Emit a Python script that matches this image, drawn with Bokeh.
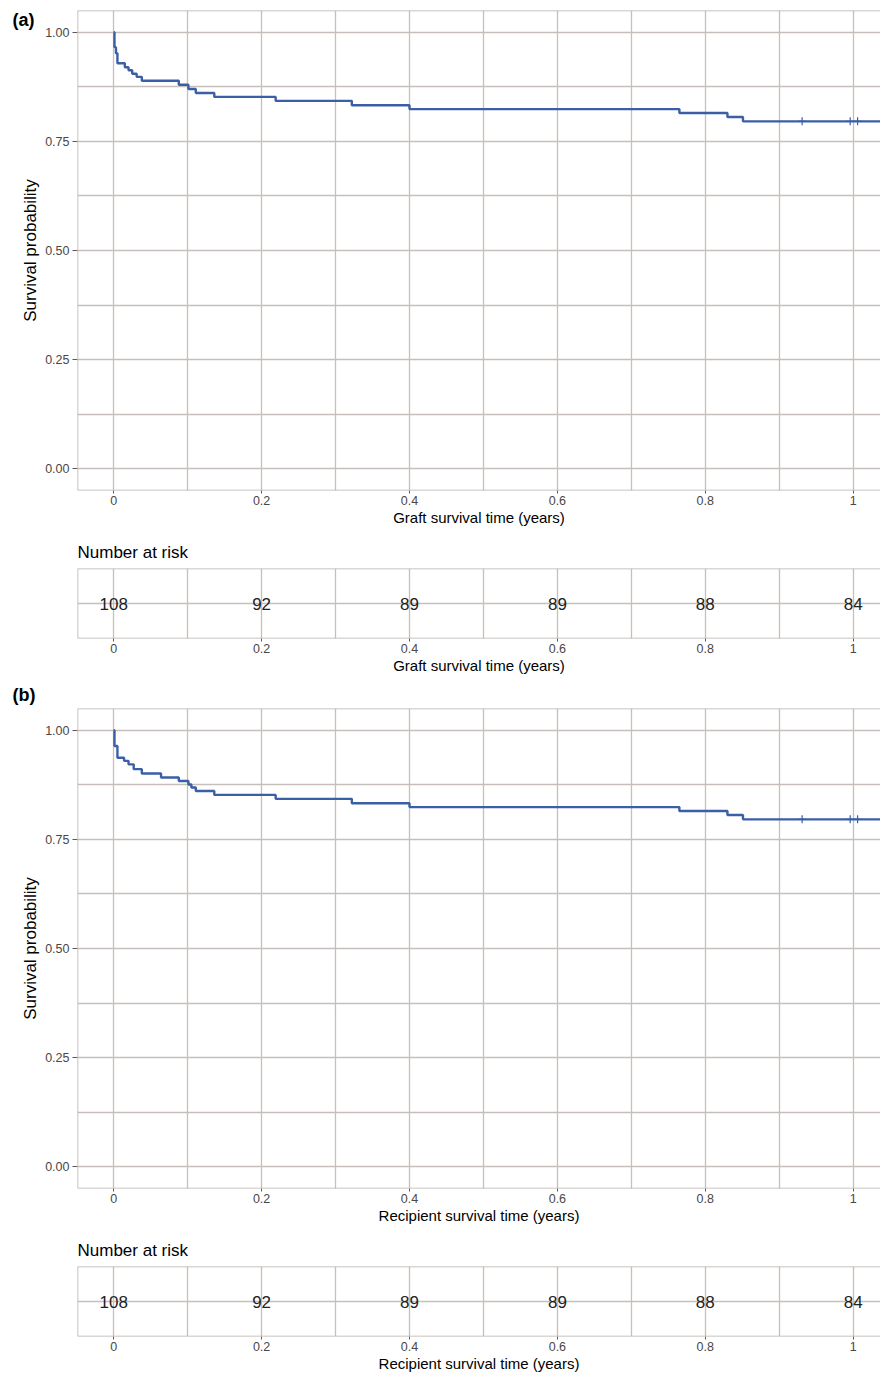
from bokeh.plotting import figure
from bokeh.layouts import column
from bokeh.models import (Range1d, FactorRange, FixedTicker, NumeralTickFormatter,
                          Title, Span, ColumnDataSource)
from bokeh.core.properties import value
from bokeh.embed import file_html
from bokeh.resources import INLINE

# ---------------- data ----------------
graft_time = [0.0, 0.001, 0.003, 0.005, 0.015, 0.020, 0.025, 0.031, 0.038, 0.088,
              0.101, 0.111, 0.136, 0.219, 0.322, 0.400, 0.765, 0.830, 0.851, 1.06]
graft_surv = [1.000, 0.966, 0.952, 0.929, 0.920, 0.913, 0.905, 0.898, 0.889, 0.880,
              0.870, 0.861, 0.852, 0.843, 0.833, 0.824, 0.815, 0.806, 0.796, 0.796]

recip_time = [0.0, 0.001, 0.005, 0.014, 0.020, 0.027, 0.038, 0.064, 0.088, 0.101,
              0.105, 0.111, 0.136, 0.219, 0.322, 0.400, 0.765, 0.830, 0.851, 1.06]
recip_surv = [1.000, 0.964, 0.937, 0.930, 0.922, 0.911, 0.901, 0.892, 0.884, 0.876,
              0.869, 0.861, 0.852, 0.843, 0.833, 0.824, 0.815, 0.806, 0.796, 0.796]

censor_time = [0.931, 0.996, 1.006]
censor_surv = [0.796, 0.796, 0.796]

risk_time = [0, 0.2, 0.4, 0.6, 0.8, 1.0]
risk_graft = [108, 92, 89, 89, 88, 84]
risk_recip = [108, 92, 89, 89, 88, 84]
strata = ["All"]

x_ticks = [0, 0.2, 0.4, 0.6, 0.8, 1.0]
x_minor = [0.1, 0.3, 0.5, 0.7, 0.9]
y_ticks = [0, 0.25, 0.5, 0.75, 1.0]
y_minor = [0.125, 0.375, 0.625, 0.875]

# ---------------- style ----------------
FONT = "Liberation Sans"
BLUE = "#3a5fa6"
GRID = "#c6bfbb"
BORDER = "#b8b0ac"
TICK = "#5e5856"
TICKLAB = "#4a4646"
X0, X1 = -0.049, 1.037
W = 880


def style_xaxis(p, label):
    ax = p.xaxis[0]
    ax.ticker = FixedTicker(ticks=x_ticks, minor_ticks=x_minor)
    ax.formatter = NumeralTickFormatter(format="0.[0]")
    ax.axis_line_color = None
    ax.major_tick_out = 3
    ax.major_tick_in = 0
    ax.minor_tick_out = 0
    ax.minor_tick_in = 0
    ax.major_tick_line_color = TICK
    ax.major_label_text_font = FONT
    ax.major_label_text_font_size = "12.5px"
    ax.major_label_text_color = TICKLAB
    ax.major_label_standoff = 2
    ax.axis_label = label
    ax.axis_label_text_font = FONT
    ax.axis_label_text_font_style = "normal"
    ax.axis_label_text_font_size = "15px"
    ax.axis_label_text_color = "black"
    ax.axis_label_standoff = 1
    p.xgrid.ticker = FixedTicker(ticks=x_ticks, minor_ticks=x_minor)
    p.xgrid.grid_line_color = GRID
    p.xgrid.grid_line_width = 1.3
    p.xgrid.minor_grid_line_color = GRID
    p.xgrid.minor_grid_line_width = 1.3


def add_title(p, text, bold, size, offset, standoff):
    p.add_layout(Title(text=text, align="left", offset=offset, standoff=standoff,
                       vertical_align="bottom", text_font=FONT,
                       text_font_style="bold" if bold else "normal",
                       text_font_size=size, text_color="black"), "above")


def surv_fig(times, survs, xlabel, tag, tag_standoff, top, bottom):
    p = figure(width=W, height=top + 480 + bottom, title=None,
               x_range=Range1d(X0, X1), y_range=Range1d(-0.05, 1.05),
               output_backend="svg", toolbar_location=None,
               min_border_left=77, min_border_right=0,
               min_border_top=top, min_border_bottom=bottom)
    p.outline_line_color = None
    p.background_fill_color = "white"
    p.border_fill_color = "white"
    style_xaxis(p, xlabel)

    ay = p.yaxis[0]
    ay.ticker = FixedTicker(ticks=y_ticks, minor_ticks=y_minor)
    ay.formatter = NumeralTickFormatter(format="0.00")
    ay.axis_line_color = None
    ay.major_tick_out = 5
    ay.major_tick_in = 0
    ay.minor_tick_out = 0
    ay.minor_tick_in = 0
    ay.major_tick_line_color = TICK
    ay.major_label_text_font = FONT
    ay.major_label_text_font_size = "12.5px"
    ay.major_label_text_color = TICKLAB
    ay.major_label_standoff = 3
    ay.axis_label = "Survival probability"
    ay.axis_label_text_font = FONT
    ay.axis_label_text_font_style = "normal"
    ay.axis_label_text_font_size = "17px"
    ay.axis_label_text_color = "black"
    ay.axis_label_standoff = 2
    p.ygrid.ticker = FixedTicker(ticks=y_ticks, minor_ticks=y_minor)
    p.ygrid.grid_line_color = GRID
    p.ygrid.grid_line_width = 1.3
    p.ygrid.minor_grid_line_color = GRID
    p.ygrid.minor_grid_line_width = 1.3

    for loc, dim in ((1.05, "width"), (-0.05, "width"), (X0, "height")):
        p.add_layout(Span(location=loc, dimension=dim, line_color=BORDER, line_width=1.5))

    p.step(times, survs, mode="after", line_color=BLUE, line_width=2.4)
    p.scatter(censor_time, censor_surv, marker="cross", size=8,
              line_color=BLUE, line_width=1.2)

    add_title(p, tag, True, "18px", -65, tag_standoff)
    return p


def risk_fig(counts, xlabel, top, bottom):
    p = figure(width=W, height=top + 70 + bottom, title=None,
               x_range=Range1d(X0, X1), y_range=FactorRange(factors=strata),
               output_backend="svg", toolbar_location=None,
               min_border_left=77, min_border_right=0,
               min_border_top=top, min_border_bottom=bottom)
    p.outline_line_color = None
    p.background_fill_color = "white"
    p.border_fill_color = "white"
    style_xaxis(p, xlabel)

    p.yaxis.visible = False
    p.ygrid.grid_line_color = GRID
    p.ygrid.grid_line_width = 1.3

    for loc, dim in ((1, "width"), (0, "width"), (X0, "height")):
        p.add_layout(Span(location=loc, dimension=dim, line_color=BORDER, line_width=1.5))

    src = ColumnDataSource(dict(time=risk_time,
                                n=[str(c) for c in counts],
                                strata=[strata[0]] * len(risk_time)))
    p.text(x="time", y="strata", text="n", source=src,
           text_font=value(FONT), text_font_size="17px",
           text_align="center", text_baseline="middle", text_color="#222222")

    add_title(p, "Number at risk", False, "17px", 0, 14)
    return p


a1 = surv_fig(graft_time, graft_surv, "Graft survival time (years)", "(a)", -38, 10, 40)
a2 = risk_fig(risk_graft, "Graft survival time (years)", 38, 40)
b1 = surv_fig(recip_time, recip_surv, "Recipient survival time (years)", "(b)", 8, 30, 40)
b2 = risk_fig(risk_recip, "Recipient survival time (years)", 38, 40)

layout = column(a1, a2, b1, b2, spacing=0)

with open("out.html", "w") as f:
    f.write(file_html(layout, INLINE))
